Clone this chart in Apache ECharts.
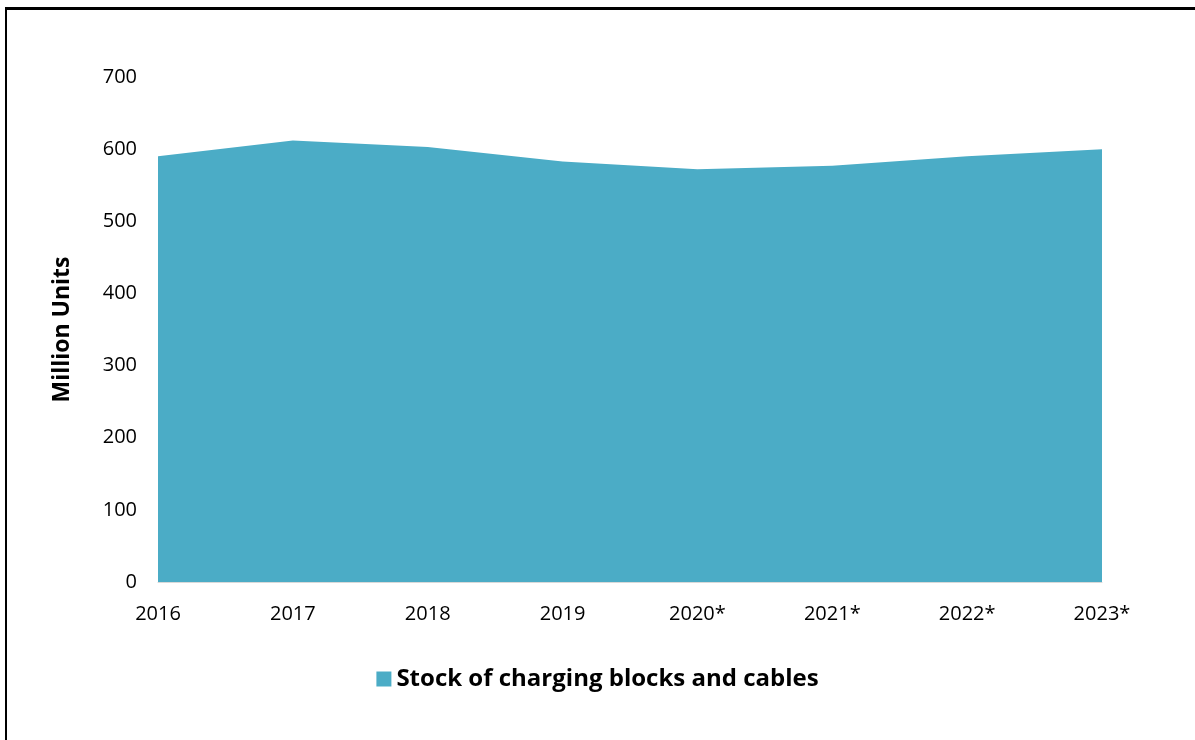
<!DOCTYPE html>
<html>
<head>
<meta charset="utf-8">
<script src="https://cdn.jsdelivr.net/npm/echarts@6/dist/echarts.min.js"></script>
<style>
  html, body { margin: 0; padding: 0; background: #fff; }
  #chart { width: 1195px; height: 740px; }
  #frame { position: absolute; left: 5px; top: 7px; right: 0; bottom: 0;
           border-left: 2px solid #000; border-top: 3px solid #000; pointer-events: none; }
</style>
</head>
<body>
<div id="chart"></div>
<div id="frame"></div>
<script>
  const years = ['2016', '2017', '2018', '2019', '2020*', '2021*', '2022*', '2023*'];
  const stock = [590, 612, 603, 583, 572, 577, 590, 600];
  const seriesName = 'Stock of charging blocks and cables';
  const axisTitle = 'Million Units';

  const fontFam = '"Open Sans", Lato, sans-serif';
  const chart = echarts.init(document.getElementById('chart'), null, { renderer: 'canvas' });
  chart.setOption({
    animation: false,
    color: ['#4BACC6'],
    grid: { left: 158, right: 93, top: 77, bottom: 158 },
    legend: {
      data: [{ name: seriesName, icon: 'rect' }],
      left: 'center', top: 662,
      itemWidth: 15, itemHeight: 15, itemGap: 7,
      textStyle: { fontFamily: fontFam, fontSize: 24, fontWeight: 'bold', color: '#000' }
    },
    xAxis: {
      type: 'category',
      data: years,
      boundaryGap: false,
      axisLine: { show: true, lineStyle: { color: '#d9d9d9', width: 1 } },
      axisTick: { show: false },
      axisLabel: { fontFamily: fontFam, fontSize: 20, color: '#000', margin: 22 }
    },
    yAxis: {
      type: 'value',
      min: 0, max: 700, interval: 100,
      name: axisTitle,
      nameLocation: 'middle',
      nameGap: 84,
      nameTextStyle: { fontFamily: fontFam, fontSize: 23, fontWeight: 'bold', color: '#000' },
      axisLine: { show: false },
      axisTick: { show: false },
      splitLine: { show: false },
      axisLabel: { fontFamily: fontFam, fontSize: 20, color: '#000', margin: 21 }
    },
    series: [{
      name: seriesName,
      type: 'line',
      data: stock,
      symbol: 'none',
      lineStyle: { width: 0 },
      areaStyle: { color: '#4BACC6', opacity: 1 }
    }]
  });
</script>
</body>
</html>
